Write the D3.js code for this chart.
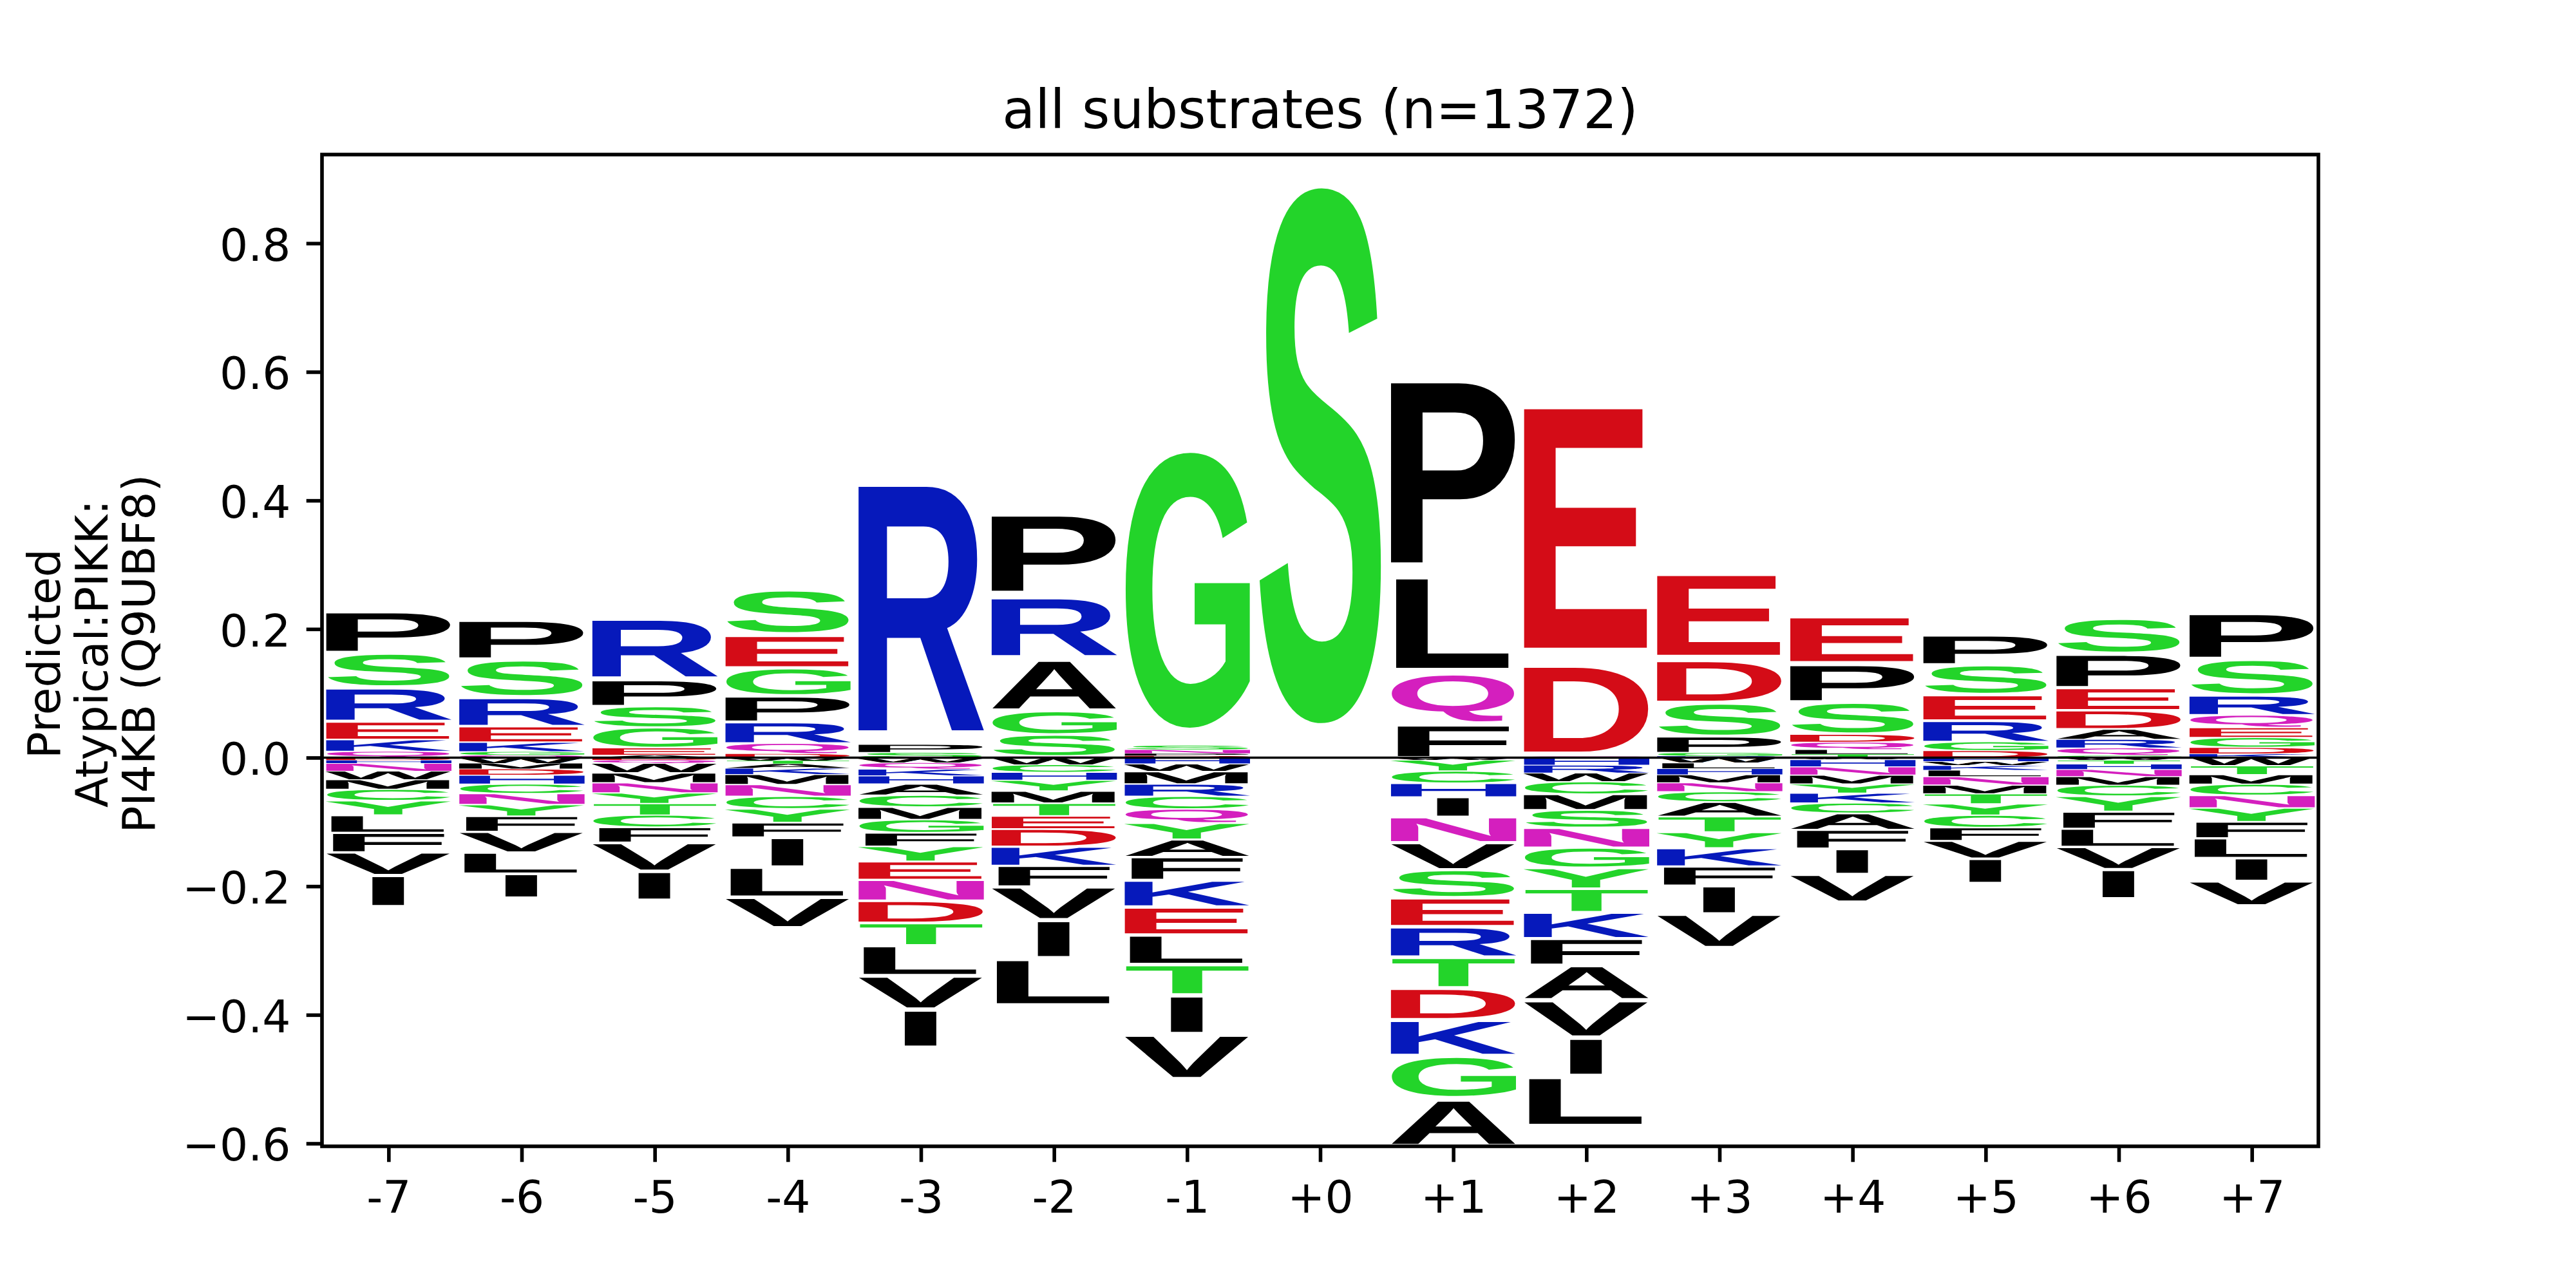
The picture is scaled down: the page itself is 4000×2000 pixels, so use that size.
<!DOCTYPE html>
<html><head><meta charset="utf-8">
<script src="https://cdn.jsdelivr.net/npm/d3@7"></script>
<style>body{margin:0;background:#fff}</style>
</head><body>
<svg id="chart" width="4000" height="2000" xmlns="http://www.w3.org/2000/svg"></svg>
<script>
// ---------------- data ----------------
const positions = ["-7","-6","-5","-4","-3","-2","-1","+0","+1","+2","+3","+4","+5","+6","+7"];
const yTicks = [-0.6,-0.4,-0.2,0.0,0.2,0.4,0.6,0.8];
const titleText = "all substrates (n=1372)";
const yLabelLines = ["Predicted","Atypical:PIKK:","PI4KB (Q9UBF8)"];

// per-residue values, positions -7 .. +7
const A = [0,0,0.0038,-0.0068,-0.0175,0.082,-0.0271,0,-0.0746,-0.0543,-0.0226,-0.0257,0,0.0159,0];
const C = [-0.0176,-0.0148,-0.0188,-0.0194,-0.0184,-0.0118,-0.0196,0,-0.0189,-0.0193,-0.0158,-0.0159,-0.0191,-0.0169,-0.0173];
const D = [-0.004,-0.0095,-0.0036,0.0062,-0.0345,-0.0276,0.003,0,-0.0495,0.148,0.0678,0.0122,0.011,0.0294,0.010];
const E = [0.0281,0.0247,0.0114,0.0515,-0.0286,-0.0201,-0.0435,0,-0.0449,0.421,0.139,0.0753,0.0408,0.0348,0.0156];
const F = [-0.0302,-0.0243,-0.0237,-0.0228,-0.021,-0.0322,-0.0361,0,0.052,-0.0415,-0.0299,-0.0293,-0.0206,-0.0266,-0.0256];
const G = [0,0.0054,0.0318,0.0434,-0.0205,0.0366,0.482,0,-0.0666,-0.0314,0.0053,0,0.0137,0.0034,0.0154];
const H = [-0.0047,-0.014,0,0,-0.0126,-0.0122,-0.0096,0,-0.0214,-0.0115,-0.0096,-0.0113,-0.0058,-0.0083,0];
const I = [-0.0492,-0.0374,-0.0449,-0.0462,-0.0598,-0.0596,-0.0606,0,-0.0306,-0.0596,-0.0438,-0.0397,-0.0383,-0.0458,-0.0359];
const K = [0.0183,0.0148,0,-0.0097,-0.0103,-0.0297,-0.0416,0,-0.056,-0.0407,-0.0285,-0.0154,-0.0072,0,0.006];
const L = [-0.0274,-0.033,0,-0.0468,-0.0469,-0.074,-0.046,0,0.156,-0.079,-0.0087,0.007,-0.010,-0.0281,-0.0308];
const M = [-0.015,-0.009,-0.0152,-0.0155,-0.0195,-0.0189,-0.0192,0,0,-0.0246,-0.0124,-0.0138,-0.0134,-0.0133,-0.0148];
const N = [-0.0125,-0.017,-0.0157,-0.0185,-0.0325,0,0.006,0,-0.040,-0.031,-0.014,-0.0128,-0.0132,-0.0112,-0.0196];
const P = [0.066,0.0626,0.0415,0.0406,0.013,0.131,0.0035,0,0.316,0,0.0251,0.060,0.047,0.0531,0.0734];
const Q = [0.0099,0.0038,-0.0053,0.0162,-0.0102,0.002,-0.0218,0,0.080,0.002,0,0.0117,0,0.0117,0.0193];
const R = [0.0532,0.0453,0.098,0.0333,0.430,0.0984,-0.0193,0,-0.0476,-0.0123,0.0025,0,0.0328,0.0135,0.0307];
const S = [0.0535,0.0589,0.0331,0.0712,0.008,0.034,0.0065,0.938,-0.0435,-0.0276,0.0524,0.050,0.0462,0.0554,0.0563];
const T = [0,0,-0.018,-0.005,-0.035,-0.0198,-0.0475,0,-0.0478,-0.0368,-0.0245,0.0055,-0.0157,-0.0057,-0.0138];
const V = [-0.0356,-0.0323,-0.0447,-0.0476,-0.0524,-0.0518,-0.0708,0,-0.0423,-0.0582,-0.0529,-0.0432,-0.0276,-0.035,-0.0382];
const W = [-0.0128,-0.0085,-0.0148,-0.0045,-0.0077,-0.0109,-0.012,0,-0.0033,-0.0135,-0.0082,-0.0029,-0.0064,-0.0042,-0.0125];
const Y = [-0.0227,-0.0179,-0.0166,-0.0214,-0.0234,-0.0169,-0.0255,0,-0.0175,-0.0322,-0.0246,-0.0142,-0.0177,-0.0241,-0.0214];

const series = {A,C,D,E,F,G,H,I,K,L,M,N,P,Q,R,S,T,V,W,Y};
const alphabet = Object.keys(series);

// ---------------- styles ----------------
const groupColors = [
  ["GSTYC", "#23d42a"],
  ["QN", "#d41fbe"],
  ["KRH", "#0619bb"],
  ["DE", "#d40c17"],
  ["AVLIPWFM", "#000000"]
];
const colorOf = ch => groupColors.find(g => g[0].includes(ch))[1];

const W_ = 4000, H_ = 2000;
const plot = {left: 500, right: 3600, top: 240, bottom: 1780};
const lw = 5.6, tickLen = 24.3, tickPad = 24.3;
const tickFont = 69.4, titleFont = 83.3;
const glyphFont = '"Liberation Sans", Arial, sans-serif';
const textFont = '"DejaVu Sans", sans-serif';
const letterWidth = 0.95, vpad = 0.1;
const dontStretchMoreThan = "E";

// ---------------- stacking (logomaker style) ----------------
const stacks = positions.map((p, i) => {
  const items = alphabet.map(ch => ({ch, v: series[ch][i]})).filter(d => d.v !== 0);
  items.sort((a, b) => a.v - b.v);
  let floor = d3.sum(items.filter(d => d.v < 0), d => d.v);
  const boxes = items.map(d => {
    const h = Math.abs(d.v);
    const b = {ch: d.ch, pos: i - 7, y0: floor, y1: floor + h};
    floor += h;
    return b;
  });
  return {pos: i - 7, boxes,
          top: d3.sum(items.filter(d => d.v > 0), d => d.v),
          bottom: d3.sum(items.filter(d => d.v < 0), d => d.v)};
});
const yMax = d3.max(stacks, s => s.top);
const yMin = d3.min(stacks, s => s.bottom);

const x = d3.scaleLinear().domain([-7.5, 7.5]).range([plot.left, plot.right]);
const y = d3.scaleLinear().domain([yMin, yMax]).range([plot.bottom, plot.top]);

// ---------------- glyph metrics ----------------
const FS = 1000;
const ctx = document.createElement("canvas").getContext("2d");
ctx.font = `bold ${FS}px ${glyphFont}`;
const metrics = {};
alphabet.forEach(ch => {
  const m = ctx.measureText(ch);
  metrics[ch] = {l: m.actualBoundingBoxLeft, r: m.actualBoundingBoxRight,
                 a: m.actualBoundingBoxAscent, d: m.actualBoundingBoxDescent};
});
const refM = ctx.measureText(dontStretchMoreThan);
const refWidth = refM.actualBoundingBoxLeft + refM.actualBoundingBoxRight;

// ---------------- draw ----------------
const svg = d3.select("#chart");
svg.append("rect").attr("width", W_).attr("height", H_).attr("fill", "#fff");

const glyphLayer = svg.append("g");
const allBoxes = stacks.flatMap(s => s.boxes);
const step = x(1) - x(0);
glyphLayer.selectAll("text.glyph").data(allBoxes).join("text")
  .attr("class", "glyph")
  .text(d => d.ch)
  .attr("font-family", glyphFont)
  .attr("font-weight", "bold")
  .attr("font-size", FS)
  .attr("fill", d => colorOf(d.ch))
  .attr("transform", d => {
    const m = metrics[d.ch];
    const bw = letterWidth * step;
    const inkW = m.l + m.r;
    const sx = Math.min(bw / inkW, bw / refWidth);
    const bx = x(d.pos) - (sx * inkW) / 2;
    const hpx = y(d.y0) - y(d.y1);
    const gh = hpx * (1 - vpad);
    const gy = y(d.y1) + hpx * vpad / 2;
    const sy = gh / (m.a + m.d);
    return `translate(${bx},${gy}) scale(${sx},${sy}) translate(${m.l},${m.a})`;
  });

// baseline at zero
svg.append("line")
  .attr("x1", plot.left).attr("x2", plot.right)
  .attr("y1", y(0)).attr("y2", y(0))
  .attr("stroke", "#000").attr("stroke-width", 3.5);

// axes
const yAxis = d3.axisLeft(y).tickValues(yTicks).tickFormat(d3.format(".1f"))
  .tickSize(tickLen).tickPadding(tickPad);
const gy = svg.append("g").attr("transform", `translate(${plot.left},0)`).call(yAxis);
const xAxis = d3.axisBottom(x).tickValues(d3.range(-7, 8)).tickFormat(d => positions[d + 7])
  .tickSize(tickLen).tickPadding(tickPad);
const gx = svg.append("g").attr("transform", `translate(0,${plot.bottom})`).call(xAxis);
[gx, gy].forEach(g => {
  g.select(".domain").remove();
  g.selectAll(".tick line").attr("stroke", "#000").attr("stroke-width", lw);
  g.selectAll(".tick text").attr("font-family", textFont).attr("font-size", tickFont).attr("fill", "#000");
});
gy.selectAll(".tick text").attr("dy", "0.38em");
gx.selectAll(".tick text").attr("dy", "0.78em");

// spines
svg.append("rect")
  .attr("x", plot.left).attr("y", plot.top)
  .attr("width", plot.right - plot.left).attr("height", plot.bottom - plot.top)
  .attr("fill", "none").attr("stroke", "#000").attr("stroke-width", lw)
  .attr("stroke-linejoin", "miter");

// title
svg.append("text").text(titleText)
  .attr("x", (plot.left + plot.right) / 2).attr("y", 199)
  .attr("text-anchor", "middle")
  .attr("font-family", textFont).attr("font-size", titleFont).attr("fill", "#000");

// y label (three lines, rotated)
const ylab = svg.append("g").attr("transform", `translate(0,1015) rotate(-90)`);
const baselines = [93.3, 166.6, 240];
yLabelLines.forEach((t, i) => {
  ylab.append("text").text(t)
    .attr("x", 0).attr("y", baselines[i])
    .attr("text-anchor", "middle")
    .attr("font-family", textFont).attr("font-size", tickFont).attr("fill", "#000");
});
</script>
</body></html>
